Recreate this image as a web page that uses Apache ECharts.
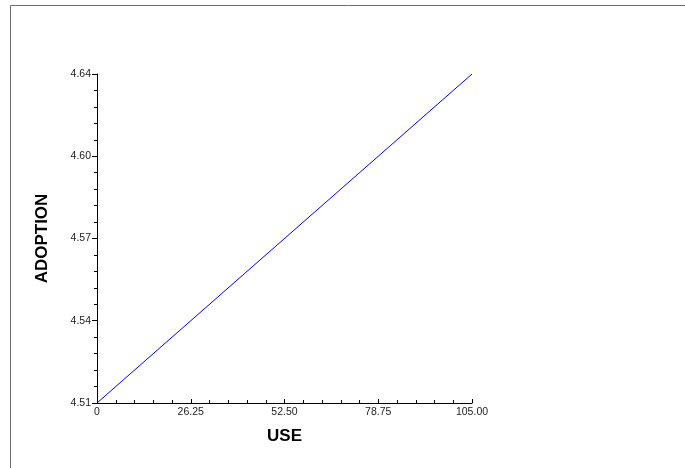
<!DOCTYPE html>
<html>
<head>
<meta charset="utf-8">
<script src="https://cdn.jsdelivr.net/npm/echarts@6/dist/echarts.min.js"></script>
<style>html,body{margin:0;padding:0;background:#fff;}#c{width:685px;height:468px;}</style>
</head>
<body>
<div id="c"></div>
<script>
var useValues = [0, 105];
var adoptionValues = [4.51, 4.64];
var xTickLabels = ['0', '26.25', '52.50', '78.75', '105.00'];
var yTickLabels = ['4.51', '4.54', '4.57', '4.60', '4.64'];
var xName = 'USE';
var yName = 'ADOPTION';

var chart = echarts.init(document.getElementById('c'), null, {renderer: 'canvas'});
var xMin = 0, xMax = 105, xInt = 26.25;
var yMin = 4.51, yMax = 4.64, yInt = 0.0325;

function idxLabel(arr, min, step) {
  return function (v) {
    var i = Math.round((v - min) / step);
    return arr[i] !== undefined ? arr[i] : '';
  };
}

var seriesData = useValues.map(function (x, i) { return [x, adoptionValues[i]]; });

chart.setOption({
  animation: false,
  backgroundColor: '#ffffff',
  graphic: [{
    type: 'rect', silent: true,
    shape: {x: 10.5, y: 5.5, width: 700, height: 500},
    style: {fill: 'none', stroke: '#6e6e6e', lineWidth: 1}
  }],
  grid: {left: 97, right: 213, top: 74, bottom: 65, containLabel: false},
  xAxis: {
    type: 'value', min: xMin, max: xMax, interval: xInt,
    name: xName, nameLocation: 'middle', nameGap: 25,
    nameTextStyle: {fontFamily: 'Liberation Sans', fontWeight: 'bold', fontSize: 17, color: '#000'},
    axisLine: {show: true, onZero: false, lineStyle: {color: '#000', width: 1}},
    axisTick: {show: true, inside: true, length: 4, lineStyle: {color: '#000'}},
    minorTick: {show: true, splitNumber: 5, length: 3, lineStyle: {color: '#000'}},
    splitLine: {show: false},
    axisLabel: {fontFamily: 'Liberation Sans', fontSize: 10.5, color: '#222', margin: 4,
      formatter: idxLabel(xTickLabels, xMin, xInt)}
  },
  yAxis: {
    type: 'value', min: yMin, max: yMax, interval: yInt,
    name: yName, nameLocation: 'middle', nameGap: 46,
    nameTextStyle: {fontFamily: 'Liberation Sans', fontWeight: 'bold', fontSize: 17, color: '#000'},
    axisLine: {show: true, onZero: false, lineStyle: {color: '#000', width: 1}},
    axisTick: {show: true, inside: false, length: 5, lineStyle: {color: '#000'}},
    minorTick: {show: true, splitNumber: 5, length: 3, lineStyle: {color: '#000'}},
    splitLine: {show: false},
    axisLabel: {fontFamily: 'Liberation Sans', fontSize: 10.5, color: '#222', margin: 6,
      formatter: idxLabel(yTickLabels, yMin, yInt)}
  },
  series: [{
    type: 'line', data: seriesData, showSymbol: false, symbol: 'none',
    lineStyle: {color: '#0000ff', width: 1}, silent: true
  }]
});
</script>
</body>
</html>
